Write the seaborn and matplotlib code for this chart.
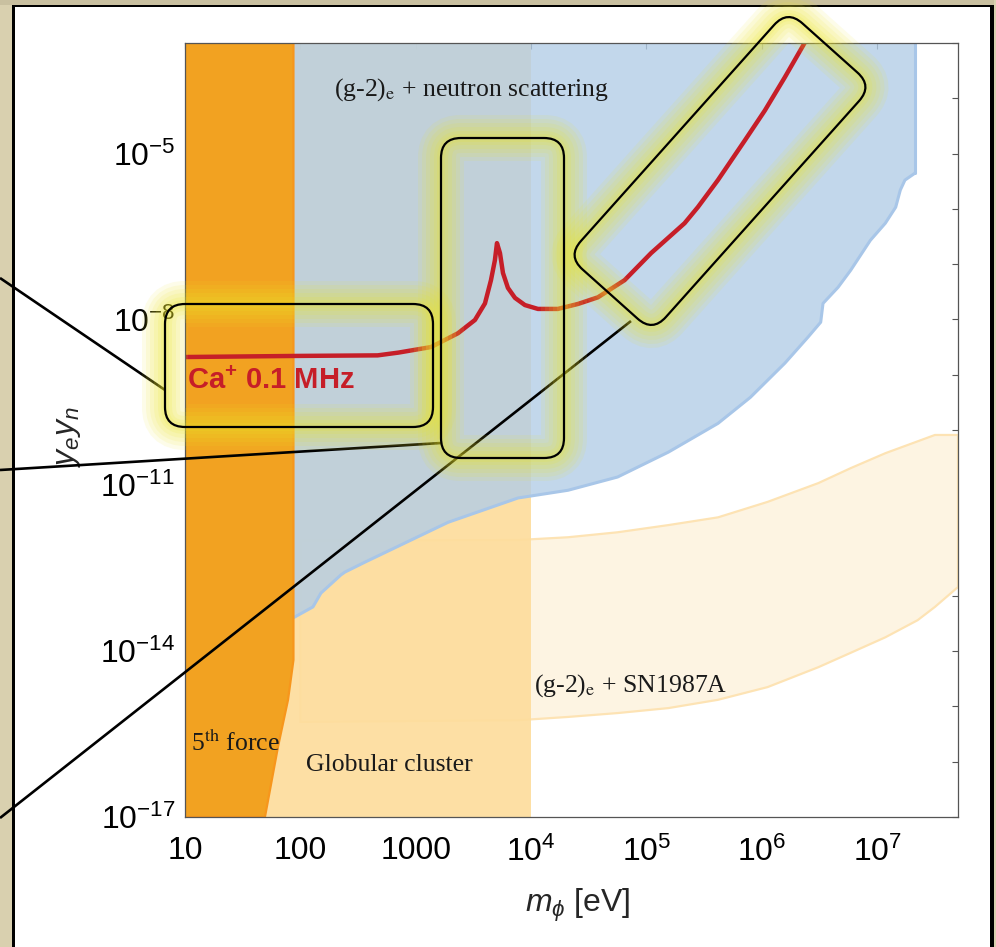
import numpy as np
import pandas as pd
import matplotlib
matplotlib.use("Agg")
import matplotlib.pyplot as plt
import seaborn as sns
from matplotlib.patches import FancyBboxPatch, Rectangle
from matplotlib.lines import Line2D
from matplotlib.transforms import Affine2D
from matplotlib.ticker import FixedLocator, FixedFormatter, NullLocator

# ---------------- data (log10 of m_phi [eV] and of y_e*y_n) ----------------
# Ca+ 0.1 MHz sensitivity curve
ca_logm = [1.0, 1.98, 2.67, 2.85, 3.132, 3.366, 3.513, 3.600, 3.652, 3.686, 3.704,
           3.730, 3.756, 3.799, 3.860, 3.946, 4.059, 4.232, 4.406, 4.579, 4.81,
           5.04, 5.33, 5.445, 5.619, 5.853, 6.026, 6.199, 6.373]
ca_logy = [-8.68, -8.66, -8.65, -8.60, -8.50, -8.25, -8.01, -7.71, -7.29, -6.93, -6.62,
           -6.80, -7.16, -7.43, -7.61, -7.74, -7.81, -7.81, -7.72, -7.60, -7.29,
           -6.80, -6.26, -5.97, -5.48, -4.76, -4.22, -3.62, -2.99]

# (g-2)_e + neutron scattering exclusion: lower boundary
gn_logm = [1.0, 1.936, 2.109, 2.178, 2.352, 2.386, 2.56, 3.28, 3.886, 4.32, 4.75,
           5.19, 5.62, 5.90, 6.20, 6.40, 6.51, 6.53, 6.66, 6.77, 6.94, 7.07, 7.16,
           7.20, 7.24, 7.33]
gn_logy = [-14.58, -13.40, -13.20, -12.95, -12.62, -12.57, -12.39, -11.67, -11.23,
           -11.09, -10.85, -10.40, -9.88, -9.41, -8.79, -8.32, -8.05, -7.71, -7.42,
           -7.11, -6.57, -6.26, -5.97, -5.66, -5.48, -5.35]

# (g-2)_e + SN1987A band
sn_up_logm = [2.0, 3.886, 4.32, 4.75, 5.19, 5.62, 6.05, 6.49, 6.77, 7.07, 7.50, 7.70]
sn_up_logy = [-12.0, -11.99, -11.94, -11.85, -11.72, -11.58, -11.30, -10.96, -10.69,
              -10.42, -10.09, -10.09]
sn_lo_logm = [2.0, 3.886, 4.32, 4.75, 5.19, 5.62, 6.05, 6.49, 6.77, 7.07, 7.35, 7.50, 7.70]
sn_lo_logy = [-15.28, -15.25, -15.19, -15.12, -15.03, -14.88, -14.65, -14.29, -14.03,
              -13.75, -13.44, -13.20, -12.84]

# 5th force exclusion: right boundary
ff_logm = [1.94, 1.94, 1.893, 1.806, 1.693]
ff_logy = [-3.0, -14.16, -14.88, -15.73, -17.0]

# globular cluster: right edge
gc_logm_max = 4.0

x_ticks = [1, 2, 3, 4, 5, 6, 7]
x_labels = ["10", "100", "1000", r"$10^{4}$", r"$10^{5}$", r"$10^{6}$", r"$10^{7}$"]
y_ticks = list(range(-17, -2))
y_labeled = {-17: r"$10^{-17}$", -14: r"$10^{-14}$", -11: r"$10^{-11}$",
             -8: r"$10^{-8}$", -5: r"$10^{-5}$"}

# ---------------- style ----------------
sns.set_theme(style="white")
plt.rcParams["font.family"] = ["Liberation Sans", "DejaVu Sans"]
plt.rcParams["mathtext.fontset"] = "custom"
plt.rcParams["mathtext.rm"] = "Liberation Sans"
plt.rcParams["mathtext.it"] = "Liberation Sans:italic"
plt.rcParams["mathtext.bf"] = "Liberation Sans:bold"

W, H = 996, 947
fig = plt.figure(figsize=(W / 100, H / 100), dpi=100)
fig.patch.set_facecolor("white")
pix = Affine2D().scale(1, -1).translate(0, H).scale(1 / 100) + fig.dpi_scale_trans

ax = fig.add_axes([185 / W, (H - 817) / H, (958 - 185) / W, (817 - 43) / H])
ax.set_facecolor("white")
ax.set_xscale("log")
ax.set_yscale("log")
XMIN, XMAX = 10.0, 10 ** 7.70
YMIN, YMAX = 1e-17, 1e-3

p10 = lambda a: 10 ** np.asarray(a, dtype=float)

# SN1987A band
sn_x = np.concatenate([p10(sn_up_logm), p10(sn_lo_logm)[::-1]])
sn_y = np.concatenate([p10(sn_up_logy), p10(sn_lo_logy)[::-1]])
ax.fill(sn_x, sn_y, facecolor="#FDF4E2", edgecolor="#FDE3B4", lw=1.6, zorder=1)

# globular cluster
ax.fill([XMIN, 10 ** gc_logm_max, 10 ** gc_logm_max, XMIN],
        [YMIN, YMIN, YMAX, YMAX], facecolor="#FDDD9D", alpha=0.93,
        edgecolor="none", zorder=1.2)

# (g-2)e + neutron scattering
gx = np.concatenate([p10(gn_logm), [p10(gn_logm)[-1], XMIN]])
gy = np.concatenate([p10(gn_logy), [YMAX, YMAX]])
ax.fill(gx, gy, facecolor=(179 / 255, 205 / 255, 231 / 255), alpha=0.8,
        edgecolor="none", zorder=2)
ax.plot(p10(gn_logm), p10(gn_logy), color="#A8C6E8", lw=2.2, zorder=2.1,
        solid_joinstyle="round")
ax.plot([p10(gn_logm)[-1]] * 2, [p10(gn_logy)[-1], YMAX], color="#A8C6E8", lw=2.2, zorder=2.1)

# 5th force
fx = np.concatenate([p10(ff_logm), [XMIN, XMIN]])
fy = np.concatenate([p10(ff_logy), [YMIN, YMAX]])
ax.fill(fx, fy, facecolor="#F2A221", edgecolor="#F7961C", lw=1.6, zorder=3)

# Ca+ curve
df = pd.DataFrame({"m": p10(ca_logm), "y": p10(ca_logy)})
sns.lineplot(data=df, x="m", y="y", sort=False, estimator=None, ax=ax,
             color="#C61E28", lw=3.2, zorder=4)
for ln in ax.get_lines():
    ln.set_solid_joinstyle("round")

ax.set_xlim(XMIN, XMAX)
ax.set_ylim(YMIN, YMAX)
ax.set_xlabel("")
ax.set_ylabel("")

ax.xaxis.set_major_locator(FixedLocator(p10(x_ticks)))
ax.xaxis.set_major_formatter(FixedFormatter(x_labels))
ax.xaxis.set_minor_locator(NullLocator())
ax.yaxis.set_major_locator(FixedLocator(p10(y_ticks)))
ax.yaxis.set_major_formatter(FixedFormatter([y_labeled.get(k, "") for k in y_ticks]))
ax.yaxis.set_minor_locator(NullLocator())
ax.tick_params(which="both", direction="in", top=True, right=True, length=4,
               width=0.8, color="#555555", labelsize=23, labelcolor="black")
ax.tick_params(axis="x", pad=14)
ax.tick_params(axis="y", pad=7)
for s in ax.spines.values():
    s.set_color("#555555")
    s.set_linewidth(0.9)
    s.set_zorder(5)

# region labels
serif = ["Liberation Serif", "DejaVu Serif"]
ax.text(10 ** 3.487, 10 ** -3.85, r"(g-2)$_{\mathrm{e}}$ + neutron scattering",
        family=serif, math_fontfamily="stix", fontsize=18.5, ha="center",
        va="center", color="#1a1a1a", zorder=6)
ax.text(10 ** 4.865, 10 ** -14.62, r"(g-2)$_{\mathrm{e}}$ + SN1987A",
        family=serif, math_fontfamily="stix", fontsize=18.5, ha="center",
        va="center", color="#1a1a1a", zorder=6)
ax.text(10 ** 1.05, 10 ** -15.66, r"5$^{\mathrm{th}}$ force", family=serif,
        math_fontfamily="stix", fontsize=18.5, ha="left", va="center",
        color="#1a1a1a", zorder=6)
ax.text(10 ** 2.768, 10 ** -16.06, "Globular cluster", family=serif,
        fontsize=18.5, ha="center", va="center", color="#1a1a1a", zorder=6)
ax.text(10 ** 1.02, 10 ** -9.12, r"Ca$^{\mathbf{+}}$ 0.1 MHz", fontsize=21,
        fontweight="bold", color="#C61E28", ha="left", va="center", zorder=6)

# axis labels
fig.text(578, 905, r"$m_\phi$ [eV]", transform=pix, fontsize=23, ha="center", va="center")
fig.text(68, 437, r"$y_e y_n$", transform=pix, fontsize=23, rotation=90,
         ha="center", va="center")

# ---------------- panel frame ----------------
frame_col = "#D9D0AF"
fig.add_artist(Rectangle((0, 0), 12, H, transform=pix, facecolor=frame_col,
                         edgecolor="none", zorder=1))
fig.add_artist(Rectangle((0, 0), W, 5, transform=pix, facecolor="#C9C0A0",
                         edgecolor="none", zorder=1))
fig.add_artist(Rectangle((12, 5), 3, H, transform=pix, facecolor="black",
                         edgecolor="none", zorder=1.1))
fig.add_artist(Rectangle((12, 5), W - 14, 2.5, transform=pix, facecolor="black",
                         edgecolor="none", zorder=1.1))
fig.add_artist(Rectangle((990, 5), 4, H, transform=pix, facecolor="black",
                         edgecolor="none", zorder=1.1))
fig.add_artist(Rectangle((994, 0), 2, H, transform=pix, facecolor=frame_col,
                         edgecolor="none", zorder=1))

# ---------------- connector lines ----------------
for (xa, ya), (xb, yb) in [((0, 278), (165, 390)), ((0, 470), (441, 443)),
                           ((0, 818), (631, 321))]:
    fig.add_artist(Line2D([xa, xb], [ya, yb], transform=pix, color="black",
                          lw=1.9, zorder=5, solid_capstyle="butt"))

# ---------------- highlighted boxes with glow ----------------
glow_col = "#ECE62A"

def make_box1():
    return FancyBboxPatch((165, 304), 268, 123, boxstyle="round,pad=0,rounding_size=20",
                          transform=pix)

def make_box2():
    return FancyBboxPatch((441, 138), 123, 320, boxstyle="round,pad=0,rounding_size=20",
                          transform=pix)

def make_box3():
    return FancyBboxPatch((-165, -57), 330, 114, boxstyle="round,pad=0,rounding_size=20",
                          transform=Affine2D().rotate_deg(-48.2).translate(720, 171) + pix)

for factory in (make_box1, make_box2, make_box3):
    for lw_px, a in [(46, 0.10), (38, 0.11), (30, 0.11), (22, 0.12), (14, 0.13), (8, 0.14)]:
        p = factory()
        p.set_facecolor("none")
        p.set_edgecolor(glow_col)
        p.set_alpha(a)
        p.set_linewidth(lw_px * 0.72)
        p.set_zorder(6)
        fig.add_artist(p)
    p = factory()
    p.set_facecolor("none")
    p.set_edgecolor("black")
    p.set_linewidth(1.6)
    p.set_zorder(7)
    fig.add_artist(p)

fig.savefig("out.png", dpi=100, facecolor="white")
